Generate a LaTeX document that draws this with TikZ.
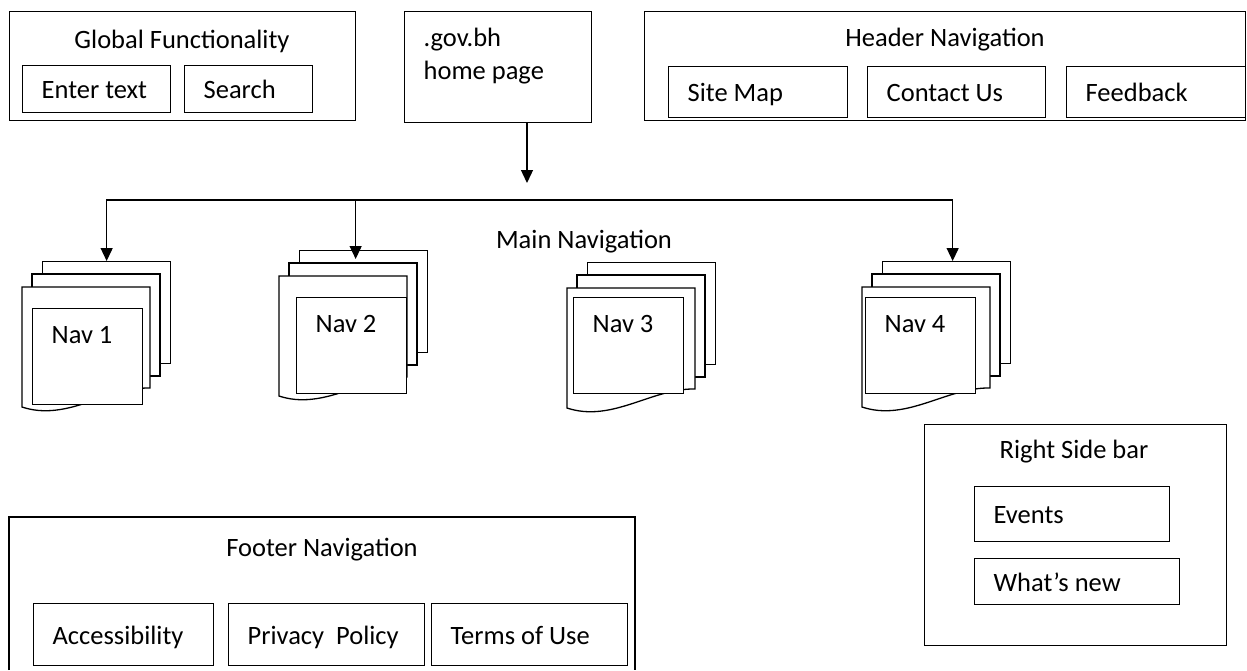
\documentclass[tikz,border=0pt]{standalone}
\usepackage{fontspec}
\setmainfont{Carlito}
\usetikzlibrary{arrows.meta}

\tikzset{
  frame/.style={draw, anchor=north west, inner sep=0pt},
  cell/.style={draw, anchor=north west, align=flush left, inner xsep=19pt, inner ysep=0pt,
               text height=20pt, text depth=1pt, minimum height=#1},
  title/.style={inner sep=0pt, text height=20pt, text depth=1pt},
  page/.style={draw, fill=white, anchor=north west, inner sep=0pt, minimum width=128pt, minimum height=102pt},
  navbox/.style={draw, fill=white, anchor=north west, align=flush left, text width=72pt,
                 inner xsep=19pt, inner ysep=0pt, text height=35pt, text depth=61pt},
  >={Triangle[length=13pt,width=12pt]}
}

\begin{document}
\begin{tikzpicture}[x=1pt, y=-1pt, line width=1.3pt, font=\fontsize{26.5}{33}\selectfont]
\useasboundingbox (0,0) rectangle (1247,670);

% global functionality
\node[frame, minimum width=346pt, minimum height=109pt] (global) at (9,11) {};
\node[title] (globaltitle) at (182,39) {Global Functionality};
\node[cell=47pt, text width=110pt] (enter) at (22,65) {Enter text};
\node[cell=47pt, text width=90pt] (search) at (184,65) {Search};

% home page
\node[frame, minimum width=187pt, minimum height=111pt] (home) at (404,11) {};
\node[inner sep=0pt, anchor=north west, align=flush left] (hometext) at (423,27) {.gov.bh\\home page};

% header navigation
\node[frame, minimum width=601pt, minimum height=109pt] (header) at (644,11) {};
\node[title] (headertitle) at (945,37) {Header Navigation};
\node[cell=51pt, text width=141pt] (sitemap) at (668,66) {Site Map};
\node[cell=51pt, text width=140pt] (contact) at (867,66) {Contact Us};
\node[cell=51pt, text width=141pt] (feedback) at (1066,66) {Feedback};

% main navigation
\node[title] (maintitle) at (584,239) {Main Navigation};
\foreach \i/\bx/\by/\ix/\iy in {1/42/261/32/308, 2/299/250/296/297, 3/587/262/573/297, 4/882/261/865/297} {
  \node[page] (stack\i) at (\bx,\by) {};
  \draw[fill=white] (\bx-10,\by+13) rectangle ++(128,102);
  \draw[fill=white] (\bx-20,\by+26) -- (\bx-20,\by+146)
        .. controls (\bx+25,\by+161) and (\bx+65,\by+126) .. (\bx+108,\by+127)
        -- (\bx+108,\by+26) -- cycle;
  \node[navbox] (nav\i) at (\ix,\iy) {Nav \i};
}

% connectors
\coordinate (bus) at (527,200);
\coordinate (split) at (527,183);
\draw[->] (home.south -| split) -- (split);
\draw[<->] (stack1.north) -- (stack1.north |- bus) -- ([xshift=6pt]stack4.north |- bus) -- ([xshift=6pt]stack4.north);
\draw[->] ([xshift=-8pt]stack2.north |- bus) -- ([xshift=-8pt,yshift=-9pt]stack2.north);

% right side bar
\node[frame, minimum width=302pt, minimum height=221pt] (sidebar) at (924,424) {};
\node[title] (sidebartitle) at (1074,449) {Right Side bar};
\node[cell=55pt, text width=157pt] (events) at (974,486) {Events};
\node[cell=46pt, text width=167pt] (whatsnew) at (974,558) {What’s new};

% footer navigation
\draw (9,670) |- (635,517) -- (635,670);
\node[title] (footertitle) at (322,547) {Footer Navigation};
\node[cell=62pt, text width=142pt] (access) at (33,603) {Accessibility};
\node[cell=62pt, text width=158pt] (privacy) at (228,603) {Privacy\ \ Policy};
\node[cell=62pt, text width=158pt] (terms) at (431,603) {Terms of Use};

\end{tikzpicture}
\end{document}
